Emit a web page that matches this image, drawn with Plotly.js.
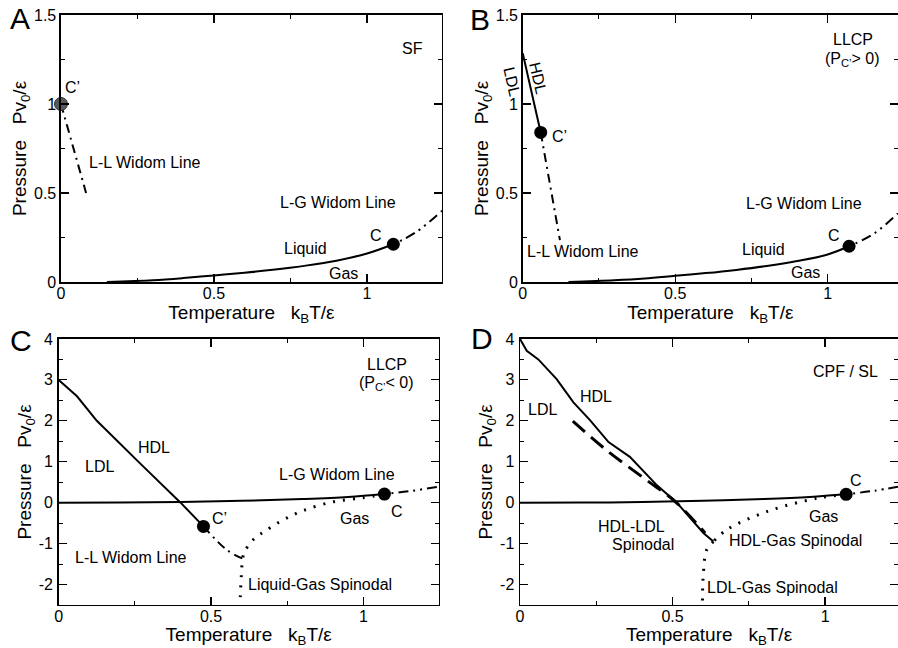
<!DOCTYPE html>
<html>
<head>
<meta charset="utf-8">
<script src="https://cdn.plot.ly/plotly-3.0.1.min.js"></script>
<style>html,body{margin:0;padding:0;background:#fff;}#chart{width:898px;height:648px;}</style>
</head>
<body>
<div id="chart"></div>
<script>
// ---------- Panel A (SF) ----------
const A_coexT = [0.15, 0.3, 0.4, 0.5, 0.6, 0.7, 0.8, 0.9, 1.0, 1.086];
const A_coexP = [0.0, 0.01, 0.022, 0.037, 0.052, 0.07, 0.092, 0.12, 0.16, 0.212];
const A_lgWidomT = [1.086, 1.16, 1.245];
const A_lgWidomP = [0.212, 0.28, 0.40];
const A_llWidomT = [0.0, 0.082];
const A_llWidomP = [1.0, 0.5];
const A_critT = [1.086], A_critP = [0.212];
const A_critLLT = [0.0], A_critLLP = [1.0];

// ---------- Panel B (LLCP, Pc' > 0) ----------
const B_coexT = [0.15, 0.3, 0.4, 0.5, 0.6, 0.7, 0.8, 0.9, 1.0, 1.07];
const B_coexP = [0.0, 0.01, 0.02, 0.035, 0.05, 0.068, 0.09, 0.118, 0.155, 0.201];
const B_lgWidomT = [1.07, 1.15, 1.23];
const B_lgWidomP = [0.201, 0.27, 0.385];
const B_llCoexT = [0.0, 0.059];
const B_llCoexP = [1.285, 0.84];
const B_llWidomT = [0.059, 0.122];
const B_llWidomP = [0.84, 0.235];
const B_critT = [1.07, 0.059], B_critP = [0.201, 0.84];

// ---------- Panel C (LLCP, Pc' < 0) ----------
const C_coexT = [0.0, 0.2, 0.4, 0.6, 0.8, 0.95, 1.069];
const C_coexP = [0.0, 0.003, 0.015, 0.045, 0.09, 0.14, 0.21];
const C_lgWidomT = [1.069, 1.16, 1.247];
const C_lgWidomP = [0.21, 0.29, 0.39];
const C_llCoexT = [0.0, 0.06, 0.125, 0.19, 0.267, 0.4, 0.475];
const C_llCoexP = [3.0, 2.6, 2.0, 1.52, 0.96, 0.0, -0.58];
const C_llWidomT = [0.475, 0.551, 0.606];
const C_llWidomP = [-0.58, -1.15, -1.375];
const C_spinT = [1.069, 1.0, 0.9, 0.8, 0.737, 0.68, 0.639, 0.61, 0.603, 0.6, 0.597, 0.595];
const C_spinP = [0.21, 0.12, 0.02, -0.2, -0.42, -0.68, -0.9, -1.2, -1.39, -1.7, -2.1, -2.5];
const C_critT = [1.069, 0.475], C_critP = [0.21, -0.58];

// ---------- Panel D (CPF / SL) ----------
const D_coexT = [0.0, 0.2, 0.4, 0.6, 0.8, 0.95, 1.069];
const D_coexP = [0.0, 0.003, 0.015, 0.045, 0.09, 0.14, 0.204];
const D_lgWidomT = [1.069, 1.16, 1.239];
const D_lgWidomP = [0.204, 0.29, 0.39];
const D_llCoexT = [0.0, 0.022, 0.06, 0.12, 0.175, 0.23, 0.29, 0.36, 0.448, 0.514, 0.601, 0.634];
const D_llCoexP = [4.0, 3.71, 3.5, 3.02, 2.45, 2.01, 1.48, 1.12, 0.43, 0.0, -0.74, -0.95];
const D_llSpinT = [0.173, 0.284, 0.415, 0.503, 0.607];
const D_llSpinP = [1.99, 1.28, 0.55, 0.065, -0.74];
const D_hgSpinT = [1.069, 0.973, 0.809, 0.678, 0.634];
const D_hgSpinP = [0.204, 0.107, -0.218, -0.66, -0.95];
const D_lgSpinT = [0.634, 0.612, 0.601, 0.598];
const D_lgSpinP = [-0.95, -1.15, -1.71, -2.48];
const D_critT = [1.069], D_critP = [0.204];

// ---------- Tick labels ----------
const xTickVals = [0, 0.5, 1];
const xTickText = ['0', '0.5', '1'];
const yTickValsAB = [0, 0.5, 1, 1.5];
const yTickTextAB = ['0', '0.5', '1', '1.5'];
const yTickValsCD = [-2, -1, 0, 1, 2, 3, 4];
const yTickTextCD = ['-2', '-1', '0', '1', '2', '3', '4'];

const FONT = 'Liberation Sans, Arial, Helvetica, sans-serif';
const solid = {color: 'black', width: 2};
const ddot = {color: 'black', width: 2, dash: '2px,5px,2px,5px,10px,5px'};
const dashdot = {color: 'black', width: 2, dash: '9px,5px,2px,5px'};
const dotted = {color: 'black', width: 3, dash: '2px,8px'};
const dashed = {color: 'black', width: 3, dash: '16px,8px'};
const mk = {color: 'black', size: 13};

function L(x, y, line, xa, ya, shape) {
  return {x: x, y: y, mode: 'lines', line: Object.assign({shape: shape || 'linear'}, line),
          xaxis: xa, yaxis: ya, showlegend: false, hoverinfo: 'skip'};
}
function M(x, y, xa, ya, marker) {
  return {x: x, y: y, mode: 'markers', marker: marker || mk, xaxis: xa, yaxis: ya,
          showlegend: false, hoverinfo: 'skip', cliponaxis: false};
}

const traces = [
  // A
  L(A_coexT, A_coexP, solid, 'x', 'y', 'spline'),
  L(A_lgWidomT, A_lgWidomP, ddot, 'x', 'y', 'spline'),
  L(A_llWidomT, A_llWidomP, dashdot, 'x', 'y'),
  M(A_critT, A_critP, 'x', 'y'),
  M(A_critLLT, A_critLLP, 'x', 'y', {color: '#5a5a5a', size: 13, line: {color: '#333', width: 1}}),
  // B
  L(B_coexT, B_coexP, solid, 'x2', 'y2', 'spline'),
  L(B_lgWidomT, B_lgWidomP, ddot, 'x2', 'y2', 'spline'),
  L(B_llCoexT, B_llCoexP, solid, 'x2', 'y2'),
  L(B_llWidomT, B_llWidomP, dashdot, 'x2', 'y2'),
  M(B_critT, B_critP, 'x2', 'y2'),
  // C
  L(C_coexT, C_coexP, solid, 'x3', 'y3', 'spline'),
  L(C_lgWidomT, C_lgWidomP, ddot, 'x3', 'y3', 'spline'),
  L(C_llCoexT, C_llCoexP, solid, 'x3', 'y3'),
  L(C_llWidomT, C_llWidomP, dashdot, 'x3', 'y3', 'spline'),
  L(C_spinT, C_spinP, dotted, 'x3', 'y3', 'spline'),
  M(C_critT, C_critP, 'x3', 'y3'),
  // D
  L(D_coexT, D_coexP, solid, 'x4', 'y4', 'spline'),
  L(D_lgWidomT, D_lgWidomP, ddot, 'x4', 'y4', 'spline'),
  L(D_llCoexT, D_llCoexP, solid, 'x4', 'y4'),
  L(D_llSpinT, D_llSpinP, dashed, 'x4', 'y4', 'spline'),
  L(D_hgSpinT, D_hgSpinP, dotted, 'x4', 'y4', 'spline'),
  L(D_lgSpinT, D_lgSpinP, dotted, 'x4', 'y4', 'spline'),
  M(D_critT, D_critP, 'x4', 'y4')
];

const xTitle = 'Temperature\u00a0\u00a0\u00a0k<sub>B</sub>T/\u03b5';
const yTitle = 'Pressure\u00a0\u00a0\u00a0Pv<sub>0</sub>/\u03b5';
const pad = n => '\u00a0'.repeat(n);

function xax(domain, range, anchor) {
  return {domain: domain, range: range, anchor: anchor, showline: true, linecolor: 'black', linewidth: 1.5,
    mirror: 'allticks', ticks: 'inside', ticklen: 8, tickwidth: 1.2, tickcolor: 'black',
    tickmode: 'array', tickvals: xTickVals, ticktext: xTickText,
    minor: {ticks: 'inside', ticklen: 4, tickwidth: 1, tickcolor: 'black', dtick: 0.25, tick0: 0, showgrid: false},
    showgrid: false, zeroline: false, tickfont: {size: 16, color: 'black', family: FONT},
    ticklabelstandoff: -4,
    title: {text: xTitle, font: {size: 19, color: 'black', family: FONT}, standoff: 2}};
}
function yax(domain, range, anchor, vals, text, minorD, standoff, shift) {
  return {domain: domain, range: range, anchor: anchor, showline: true, linecolor: 'black', linewidth: 1.5,
    mirror: 'allticks', ticks: 'inside', ticklen: 8, tickwidth: 1.2, tickcolor: 'black',
    tickmode: 'array', tickvals: vals, ticktext: text,
    minor: {ticks: 'inside', ticklen: 4, tickwidth: 1, tickcolor: 'black', dtick: minorD, tick0: 0, showgrid: false},
    showgrid: false, zeroline: false, tickfont: {size: 16, color: 'black', family: FONT},
    ticklabelstandoff: standoff,
    title: {text: pad(shift) + yTitle, font: {size: 19, color: 'black', family: FONT}, standoff: 2}};
}

function T(text, x, y, xr, yr, opts) {
  return Object.assign({text: text, x: x, y: y, xref: xr, yref: yr, showarrow: false,
    font: {size: 16, color: 'black', family: FONT}, xanchor: 'center', yanchor: 'middle'}, opts || {});
}
const big = {font: {size: 30, color: 'black', family: FONT}};

const annotations = [
  T('A', 0.0223, 0.9707, 'paper', 'paper', big),
  T('B', 0.534, 0.970, 'paper', 'paper', big),
  T('C', 0.0234, 0.4753, 'paper', 'paper', big),
  T('D', 0.5367, 0.4769, 'paper', 'paper', big),
  // A
  T('SF', 1.147, 1.309, 'x', 'y'),
  T('C\u2019', 0.0075, 1.09, 'x', 'y', {xanchor: 'left'}),
  T('L-L Widom Line', 0.086, 0.669, 'x', 'y', {xanchor: 'left'}),
  T('L-G Widom Line', 0.905, 0.449, 'x', 'y'),
  T('C', 1.029, 0.264, 'x', 'y'),
  T('Liquid', 0.80, 0.191, 'x', 'y'),
  T('Gas', 0.922, 0.045, 'x', 'y'),
  // B
  T('LLCP', 1.084, 1.36, 'x2', 'y2'),
  T('(P<sub>C\u2019</sub>> 0)', 1.082, 1.25, 'x2', 'y2'),
  T('HDL', 0.051, 1.144, 'x2', 'y2', {textangle: 77}),
  T('LDL', 0.5698, 0.8739, 'paper', 'paper', {textangle: 77}),
  T('C\u2019', 0.119, 0.816, 'x2', 'y2'),
  T('L-G Widom Line', 0.923, 0.441, 'x2', 'y2'),
  T('C', 1.022, 0.263, 'x2', 'y2'),
  T('Liquid', 0.789, 0.182, 'x2', 'y2'),
  T('Gas', 0.926, 0.051, 'x2', 'y2'),
  T('L-L Widom Line', 0.197, 0.174, 'x2', 'y2'),
  // C
  T('LLCP', 1.078, 3.386, 'x3', 'y3'),
  T('(P<sub>C\u2019</sub>< 0)', 1.076, 2.915, 'x3', 'y3'),
  T('HDL', 0.313, 1.336, 'x3', 'y3'),
  T('LDL', 0.133, 0.874, 'x3', 'y3'),
  T('L-G Widom Line', 0.914, 0.697, 'x3', 'y3'),
  T('C\u2019', 0.497, -0.396, 'x3', 'y3', {xanchor: 'left'}),
  T('C', 1.109, -0.219, 'x3', 'y3'),
  T('Gas', 0.972, -0.396, 'x3', 'y3'),
  T('L-L Widom Line', 0.236, -1.351, 'x3', 'y3'),
  T('Liquid-Gas Spinodal', 0.858, -2.0, 'x3', 'y3'),
  // D
  T('CPF / SL', 1.066, 3.21, 'x4', 'y4'),
  T('HDL', 0.248, 2.59, 'x4', 'y4'),
  T('LDL', 0.074, 2.27, 'x4', 'y4'),
  T('C', 1.102, 0.535, 'x4', 'y4'),
  T('Gas', 0.995, -0.34, 'x4', 'y4'),
  T('HDL-LDL', 0.366, -0.583, 'x4', 'y4'),
  T('Spinodal', 0.402, -1.03, 'x4', 'y4'),
  T('HDL-Gas Spinodal', 0.902, -0.92, 'x4', 'y4'),
  T('LDL-Gas Spinodal', 0.828, -2.08, 'x4', 'y4')
];

const layout = {
  width: 898, height: 648,
  margin: {l: 0, r: 0, t: 0, b: 0},
  paper_bgcolor: 'white', plot_bgcolor: 'white',
  font: {family: FONT, color: 'black'},
  showlegend: false,
  xaxis: xax([0.0679, 0.4922], [0, 1.245], 'y'),
  yaxis: yax([0.5648, 0.9769], [0, 1.5], 'x', yTickValsAB, yTickTextAB, 0.25, 0, 5),
  xaxis2: xax([0.5821, 1.0], [0, 1.2305], 'y2'),
  yaxis2: yax([0.5648, 0.9769], [0, 1.5], 'x2', yTickValsAB, yTickTextAB, 0.25, 0, 4),
  xaxis3: xax([0.0654, 0.4885], [0, 1.247], 'y3'),
  yaxis3: yax([0.0664, 0.4769], [-2.5, 4], 'x3', yTickValsCD, yTickTextCD, 0.5, 1, 2),
  xaxis4: xax([0.5791, 1.0], [0, 1.239], 'y4'),
  yaxis4: yax([0.0664, 0.4769], [-2.5, 4], 'x4', yTickValsCD, yTickTextCD, 0.5, 1, 2),
  annotations: annotations
};

Plotly.newPlot('chart', traces, layout, {displayModeBar: false, staticPlot: true});
</script>
</body>
</html>
